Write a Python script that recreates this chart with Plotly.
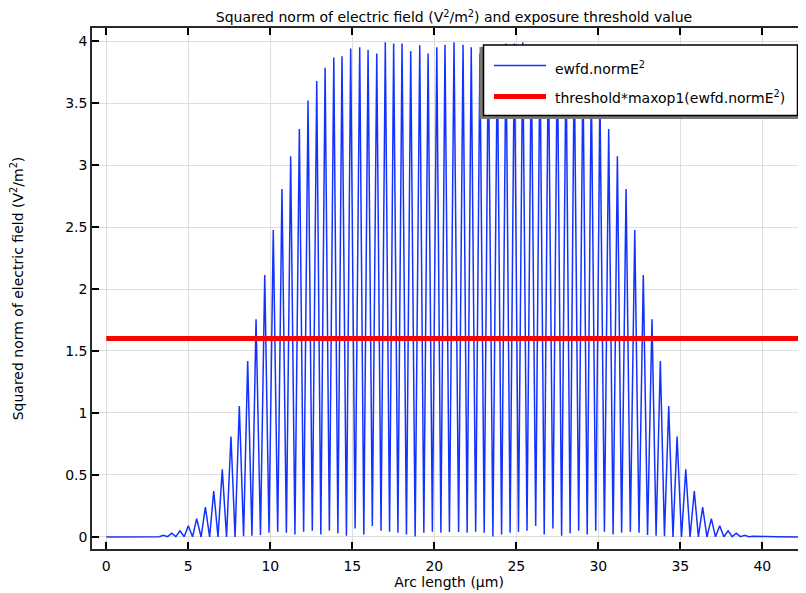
import plotly.graph_objects as go

# ---- data ----
arc_length = [
    0.0, 0.8, 1.6, 2.2, 2.7,
    2.97, 3.22, 3.48, 3.74, 3.99, 4.24, 4.49, 4.75, 5.00, 5.26,
    5.51, 5.78, 6.04, 6.30, 6.55, 6.81, 7.07, 7.33, 7.60, 7.85,
    8.11, 8.37, 8.62, 8.88, 9.13, 9.40, 9.66, 9.92, 10.18, 10.45,
    10.71, 10.98, 11.24, 11.50, 11.77, 12.03, 12.30, 12.56, 12.83, 13.08,
    13.34, 13.60, 13.87, 14.12, 14.37, 14.64, 14.90, 15.17, 15.45, 15.70,
    15.96, 16.22, 16.49, 16.75, 17.01, 17.27, 17.52, 17.78, 18.03, 18.30,
    18.56, 18.83, 19.11, 19.36, 19.62, 19.88, 20.15, 20.40, 20.65, 20.92,
    21.20,
    21.48, 21.75, 22.00, 22.25, 22.52, 22.78, 23.04, 23.29, 23.57, 23.84,
    24.10, 24.37, 24.62, 24.88, 25.13, 25.39, 25.65, 25.91, 26.18, 26.44,
    26.70, 26.95, 27.23, 27.50, 27.76, 28.03, 28.28, 28.53, 28.80, 29.06,
    29.32, 29.57, 29.84, 30.10, 30.37, 30.63, 30.90, 31.16, 31.42, 31.69,
    31.95, 32.22, 32.48, 32.74, 33.00, 33.27, 33.52, 33.78, 34.03, 34.29,
    34.55, 34.80, 35.07, 35.33, 35.59, 35.85, 36.10, 36.36, 36.62, 36.89,
    37.14, 37.40, 37.65, 37.91, 38.16, 38.41, 38.66, 38.92, 39.18, 39.43,
    39.70, 40.20, 40.80, 41.60, 42.40,
]
norm_e2 = [
    0.0, 0.001, 0.002, 0.003, 0.004,
    0.006, 0.002, 0.013, 0.003, 0.030, 0.003, 0.050, 0.002, 0.090, 0.001,
    0.148, 0.0, 0.240, 0.0, 0.370, 0.0, 0.546, 0.0, 0.810, 0.0,
    1.056, 0.005, 1.420, 0.010, 1.756, 0.016, 2.113, 0.035, 2.476, 0.043,
    2.806, 0.035, 3.070, 0.020, 3.290, 0.043, 3.520, 0.050, 3.677, 0.020,
    3.785, 0.050, 3.866, 0.030, 3.877, 0.010, 3.940, 0.068, 3.950, 0.020,
    3.930, 0.089, 3.900, 0.050, 3.990, 0.043, 3.980, 0.035, 3.980, 0.020,
    3.920, 0.003, 3.965, 0.035, 3.900, 0.043, 3.950, 0.035, 3.970, 0.040,
    3.990,
    0.040, 3.970, 0.035, 3.950, 0.043, 3.900, 0.035, 3.965, 0.003, 3.920,
    0.020, 3.980, 0.035, 3.980, 0.043, 3.990, 0.050, 3.900, 0.089, 3.930,
    0.020, 3.950, 0.068, 3.940, 0.010, 3.877, 0.030, 3.866, 0.050, 3.785,
    0.020, 3.677, 0.050, 3.520, 0.043, 3.290, 0.020, 3.070, 0.035, 2.806,
    0.043, 2.476, 0.035, 2.113, 0.016, 1.756, 0.010, 1.420, 0.005, 1.056,
    0.0, 0.810, 0.0, 0.546, 0.0, 0.370, 0.0, 0.240, 0.0, 0.148,
    0.001, 0.090, 0.002, 0.050, 0.003, 0.030, 0.003, 0.013, 0.002, 0.006,
    0.004, 0.003, 0.002, 0.001, 0.0,
]
threshold_x = [0.0, 42.4]
threshold_y = [1.6, 1.6]

x_ticks = [0, 5, 10, 15, 20, 25, 30, 35, 40]
y_ticks = [0, 0.5, 1, 1.5, 2, 2.5, 3, 3.5, 4]
y_tick_text = ["0", "0.5", "1", "1.5", "2", "2.5", "3", "3.5", "4"]

series_names = ["ewfd.normE<sup>2</sup>", "threshold*maxop1(ewfd.normE<sup>2</sup>)"]

FONT = "DejaVu Sans"
PAGE_OFF = 8              # default body margin of the html page
W, H = 806 - PAGE_OFF, 593 - PAGE_OFF
L, T = 92 - PAGE_OFF, 28 - PAGE_OFF
B = H - (549 - PAGE_OFF)
R = 0
PW, PH = W - L - R, H - T - B


def px(xpix):  # page pixel -> paper x
    return (xpix - PAGE_OFF - L) / PW


def py(ypix):  # page pixel -> paper y
    return (H - B - (ypix - PAGE_OFF)) / PH


BLUE = "rgb(20,50,255)"

fig = go.Figure()
fig.add_trace(go.Scatter(x=arc_length, y=norm_e2, mode="lines",
                         line=dict(color=BLUE, width=1.5),
                         name=series_names[0], showlegend=False))
fig.add_trace(go.Scatter(x=threshold_x, y=threshold_y, mode="lines",
                         line=dict(color="rgb(255,0,0)", width=5),
                         name=series_names[1], showlegend=False))

# manual legend (box with shadow)
shapes = [
    dict(type="rect", xref="paper", yref="paper", layer="above",
         x0=px(479.5), x1=px(799.5), y0=py(119), y1=py(47),
         fillcolor="rgb(120,120,120)", line=dict(width=0)),
    dict(type="rect", xref="paper", yref="paper", layer="above",
         x0=px(483.5), x1=px(797.5), y0=py(115.5), y1=py(45),
         fillcolor="white", line=dict(color="black", width=1.5)),
    dict(type="line", xref="paper", yref="paper", layer="above",
         x0=px(494), x1=px(546), y0=py(65.5), y1=py(65.5),
         line=dict(color=BLUE, width=1.3)),
    dict(type="line", xref="paper", yref="paper", layer="above",
         x0=px(494), x1=px(546), y0=py(96.5), y1=py(96.5),
         line=dict(color="rgb(255,0,0)", width=5)),
]
annotations = [
    dict(text=series_names[0], xref="paper", yref="paper",
         x=px(553), y=py(68), xanchor="left", yanchor="middle",
         showarrow=False, font=dict(family=FONT, size=14, color="black")),
    dict(text=series_names[1], xref="paper", yref="paper",
         x=px(553), y=py(97), xanchor="left", yanchor="middle",
         showarrow=False, font=dict(family=FONT, size=14, color="black")),
]

fig.update_layout(
    width=W, height=H,
    margin=dict(l=L, r=R, t=T, b=B, autoexpand=False),
    paper_bgcolor="white", plot_bgcolor="white",
    font=dict(family=FONT, size=14, color="black"),
    title=dict(text="Squared norm of electric field (V<sup>2</sup>/m<sup>2</sup>) and exposure threshold value",
               x=px(454), xref="paper", xanchor="center",
               y=1 - 9.5 / H, yref="container", yanchor="middle",
               font=dict(family=FONT, size=14, color="black")),
    shapes=shapes,
    annotations=annotations,
    showlegend=False,
)
fig.update_xaxes(
    range=[-0.872, 42.66], tickvals=x_ticks, ticktext=[str(v) for v in x_ticks],
    ticks="inside", ticklen=7, tickwidth=1.5, tickcolor="black",
    showline=True, linecolor="rgb(40,40,40)", linewidth=1.5, mirror="ticks",
    showgrid=True, gridcolor="rgb(222,222,222)", gridwidth=1, zeroline=False,
    automargin=False, ticklabelstandoff=3,
    title=dict(text="Arc length (µm)", standoff=3, font=dict(family=FONT, size=14)),
    tickfont=dict(family=FONT, size=14),
)
fig.update_yaxes(
    range=[-0.097, 4.105], tickvals=y_ticks, ticktext=y_tick_text,
    ticks="inside", ticklen=7, tickwidth=1.5, tickcolor="black",
    showline=True, linecolor="rgb(40,40,40)", linewidth=1.5, mirror=False,
    showgrid=True, gridcolor="rgb(222,222,222)", gridwidth=1, zeroline=False,
    automargin=False,
    title=dict(text="Squared norm of electric field (V<sup>2</sup>/m<sup>2</sup>)", standoff=38,
               font=dict(family=FONT, size=14)),
    tickfont=dict(family=FONT, size=14),
)

fig.write_html("out.html")
